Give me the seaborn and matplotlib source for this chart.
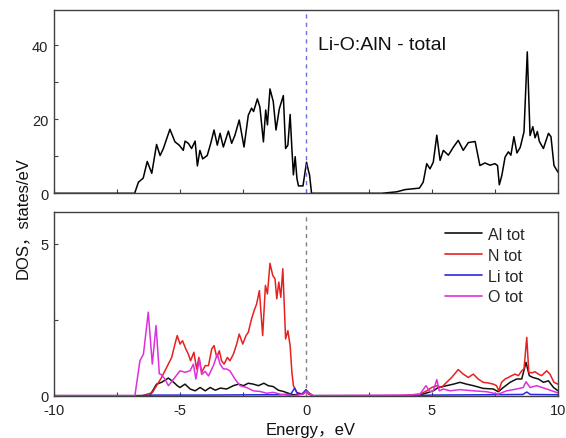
import numpy as np
import pandas as pd
import matplotlib
matplotlib.use("Agg")
import matplotlib.pyplot as plt
from matplotlib.ticker import MultipleLocator
import seaborn as sns

# ---------------- data ----------------
total_dos = [
    (-10.0, 0), (-6.80, 0), (-6.65, 3.0), (-6.46, 4.1), (-6.30, 8.6), (-6.12, 5.4),
    (-5.93, 13.2), (-5.79, 10.2), (-5.66, 12.1), (-5.40, 17.3), (-5.20, 13.9),
    (-5.03, 13.0), (-4.87, 11.6), (-4.80, 14.1), (-4.67, 13.5), (-4.54, 12.1),
    (-4.40, 14.1), (-4.31, 7.4), (-4.21, 11.6), (-4.10, 9.3), (-3.92, 10.2),
    (-3.78, 13.5), (-3.65, 17.1), (-3.52, 13.0), (-3.41, 16.2), (-3.28, 12.5),
    (-3.08, 16.8), (-2.95, 13.5), (-2.82, 15.7), (-2.65, 19.8), (-2.46, 12.5),
    (-2.29, 21.1), (-2.16, 23.0), (-2.08, 22.1), (-1.93, 25.5), (-1.83, 23.3),
    (-1.69, 13.9), (-1.60, 22.5), (-1.53, 18.5), (-1.43, 28.2), (-1.30, 24.8),
    (-1.19, 17.1), (-1.06, 22.8), (-0.90, 26.4), (-0.81, 12.1), (-0.72, 13.0),
    (-0.63, 21.3), (-0.56, 12.0), (-0.50, 5.0), (-0.43, 9.9), (-0.36, 4.0),
    (-0.30, 2.0), (-0.12, 2.0), (0.02, 8.4), (0.10, 6.0), (0.14, 5.0), (0.22, 0),
    (3.00, 0), (3.60, 0.4), (3.93, 1.0), (4.50, 1.4), (4.65, 3.0), (4.79, 8.0),
    (4.92, 6.6), (5.05, 8.4), (5.19, 15.7), (5.32, 8.9), (5.45, 11.6), (5.65, 10.3),
    (5.85, 12.5), (6.04, 14.3), (6.24, 11.6), (6.44, 13.7), (6.71, 14.0), (6.90, 7.5),
    (7.10, 8.2), (7.30, 7.6), (7.50, 8.0), (7.60, 7.5), (7.67, 2.3), (7.77, 4.8),
    (7.90, 9.8), (8.03, 11.2), (8.13, 10.3), (8.25, 15.3), (8.37, 10.9), (8.50, 12.4),
    (8.65, 16.6), (8.78, 38.2), (8.89, 15.6), (9.00, 18.0), (9.09, 15.0), (9.18, 16.7),
    (9.26, 14.0), (9.42, 12.1), (9.62, 16.2), (9.72, 15.3), (9.84, 7.5), (10.0, 5.7),
]

al_dos = [
    (-10.0, 0), (-6.2, 0), (-5.93, 0.38), (-5.73, 0.44), (-5.46, 0.58), (-5.25, 0.44),
    (-5.11, 0.33), (-5.0, 0.27), (-4.8, 0.38), (-4.6, 0.22), (-4.4, 0.16), (-4.2, 0.27),
    (-4.0, 0.16), (-3.8, 0.27), (-3.6, 0.18), (-3.4, 0.25), (-3.15, 0.22), (-2.88, 0.33),
    (-2.68, 0.38), (-2.48, 0.33), (-2.29, 0.41), (-2.09, 0.38), (-1.89, 0.33),
    (-1.67, 0.41), (-1.5, 0.33), (-1.3, 0.30), (-1.1, 0.18), (-0.9, 0.14), (-0.7, 0.08),
    (-0.5, 0.03), (-0.17, 0.05), (0.03, 0.14), (0.27, 0), (4.2, 0), (4.52, 0.02),
    (5.05, 0.16), (5.25, 0.27), (5.58, 0.33), (5.85, 0.38), (6.11, 0.44), (6.37, 0.38),
    (6.64, 0.33), (7.03, 0.24), (7.43, 0.22), (7.63, 0.13), (7.83, 0.27), (8.10, 0.44),
    (8.36, 0.55), (8.56, 0.55), (8.73, 1.10), (8.86, 0.66), (9.00, 0.60), (9.22, 0.55),
    (9.42, 0.44), (9.62, 0.49), (9.82, 0.27), (10.0, 0.16),
]

n_dos = [
    (-10.0, 0), (-6.5, 0), (-6.1, 0.10), (-5.93, 0.33), (-5.73, 0.60), (-5.53, 0.93),
    (-5.33, 1.26), (-5.2, 1.70), (-5.11, 1.98), (-5.0, 1.70), (-4.9, 1.81), (-4.77, 1.54),
    (-4.67, 1.37), (-4.58, 1.15), (-4.45, 1.43), (-4.34, 0.88), (-4.25, 1.26),
    (-4.14, 0.77), (-4.0, 0.99), (-3.87, 0.99), (-3.74, 1.54), (-3.65, 1.65),
    (-3.54, 1.26), (-3.44, 1.48), (-3.35, 1.15), (-3.25, 1.04), (-3.12, 1.26),
    (-3.02, 1.15), (-2.88, 1.37), (-2.75, 1.70), (-2.65, 2.03), (-2.51, 1.70),
    (-2.38, 1.98), (-2.29, 2.09), (-2.16, 2.53), (-2.06, 2.80), (-1.96, 3.02),
    (-1.85, 3.46), (-1.72, 1.98), (-1.61, 3.63), (-1.53, 3.35), (-1.43, 4.36),
    (-1.32, 3.96), (-1.23, 3.85), (-1.16, 3.19), (-1.08, 3.74), (-1.0, 3.24),
    (-0.92, 4.18), (-0.81, 1.87), (-0.72, 2.14), (-0.63, 1.65), (-0.56, 0.77),
    (-0.5, 0.33), (-0.37, 0.11), (-0.17, 0.05), (0.0, 0.14), (0.1, 0.05), (0.27, 0),
    (3.7, 0), (4.52, 0.05), (4.79, 0.16), (4.99, 0.27), (5.19, 0.33), (5.38, 0.27),
    (5.58, 0.44), (5.78, 0.60), (6.04, 0.86), (6.24, 0.71), (6.44, 0.60), (6.64, 0.71),
    (6.83, 0.55), (7.03, 0.44), (7.23, 0.42), (7.43, 0.38), (7.56, 0.33), (7.65, 0.16),
    (7.76, 0.44), (7.90, 0.55), (8.03, 0.60), (8.16, 0.66), (8.29, 0.71), (8.43, 0.66),
    (8.56, 0.82), (8.65, 0.88), (8.76, 1.92), (8.84, 0.77), (8.96, 0.75), (9.09, 0.79),
    (9.22, 0.71), (9.35, 0.66), (9.55, 0.82), (9.68, 0.71), (9.84, 0.44), (10.0, 0.38),
]

li_dos = [
    (-10.0, 0), (-6.6, 0), (-6.0, 0.02), (-4.0, 0.02), (-2.0, 0.03), (-1.0, 0.03),
    (-0.6, 0.06), (-0.45, 0.25), (-0.35, 0.08), (-0.15, 0.06), (0.0, 0.20),
    (0.12, 0.08), (0.27, 0), (4.3, 0), (5.0, 0.02), (7.0, 0.03), (8.6, 0.04),
    (8.76, 0.12), (8.9, 0.04), (10.0, 0.03),
]

o_dos = [
    (-10.0, 0), (-6.79, 0), (-6.59, 1.15), (-6.45, 1.37), (-6.26, 2.75), (-6.10, 1.04),
    (-5.95, 2.31), (-5.82, 0.72), (-5.75, 0.70), (-5.6, 0.55), (-5.46, 0.33),
    (-5.25, 0.55), (-5.0, 0.82), (-4.8, 0.77), (-4.6, 0.82), (-4.47, 1.04),
    (-4.37, 0.55), (-4.23, 1.21), (-4.14, 0.70), (-4.0, 0.80), (-3.87, 0.65),
    (-3.67, 1.00), (-3.52, 1.37), (-3.41, 1.04), (-3.28, 0.88), (-3.15, 0.88),
    (-3.02, 0.82), (-2.82, 0.55), (-2.62, 0.33), (-2.36, 0.27), (-2.09, 0.16),
    (-1.83, 0.14), (-1.56, 0.08), (-1.3, 0.11), (-1.03, 0.05), (-0.77, 0.02),
    (-0.5, 0), (-0.1, 0.05), (0.0, 0.15), (0.27, 0), (4.13, 0.02), (4.52, 0.05),
    (4.76, 0.33), (4.92, 0.13), (5.05, 0.16), (5.19, 0.53), (5.29, 0.16), (5.45, 0.22),
    (5.72, 0.16), (6.11, 0.20), (6.64, 0.16), (7.17, 0.13), (7.63, 0.05), (7.96, 0.16),
    (8.36, 0.22), (8.62, 0.27), (8.73, 0.46), (8.89, 0.27), (9.15, 0.33), (9.55, 0.22),
    (10.0, 0.09),
]

series_names = ["Al tot", "N tot", "Li tot", "O tot"]
series_colors = ["#111111", "#e82020", "#2a2ae0", "#dd30dd"]
panel_title = "Li-O:AlN - total"
x_label = "Energy，eV"
y_label = "DOS，states/eV"
x_ticks = [-10, -5, 0, 5, 10]
top_yticks = [0, 20, 40]
bot_yticks = [0, 5]

# ---------------- styling ----------------
sns.set_style("ticks")
plt.rcParams["font.family"] = ["Liberation Sans", "Noto Sans CJK SC", "DejaVu Sans"]
plt.rcParams["axes.unicode_minus"] = False
plt.rcParams["axes.edgecolor"] = "#404040"
plt.rcParams["axes.linewidth"] = 1.0

fig = plt.figure(figsize=(5.66, 4.39), dpi=100)
ax_top = fig.add_axes([0.0954, 0.5574, 0.8905, 0.4182])
ax_bot = fig.add_axes([0.0954, 0.0964, 0.8905, 0.4177])

tot_df = pd.DataFrame(total_dos, columns=["E", "DOS"])
sns.lineplot(data=tot_df, x="E", y="DOS", ax=ax_top, color="black", lw=1.1,
             estimator=None, sort=False)

frames = []
for name, pts in zip(series_names, [al_dos, n_dos, li_dos, o_dos]):
    d = pd.DataFrame(pts, columns=["E", "DOS"])
    d["species"] = name
    frames.append(d)
pdos_df = pd.concat(frames, ignore_index=True)
sns.lineplot(data=pdos_df, x="E", y="DOS", hue="species", hue_order=series_names,
             palette=series_colors, ax=ax_bot, lw=1.1, estimator=None, sort=False)

ax_top.axvline(0, color="#7070d8", lw=1.0, ls=(0, (3, 3)))
ax_bot.axvline(0, color="#808080", lw=1.0, ls=(0, (3, 3)))

for ax in (ax_top, ax_bot):
    ax.set_xlim(-10, 10)
    ax.set_xticks(x_ticks)
    ax.xaxis.set_minor_locator(MultipleLocator(2.5))
    ax.set_xlabel("")
    ax.set_ylabel("")
    ax.tick_params(which="both", direction="in", length=3, width=0.8,
                   colors="#404040", labelcolor="#222222", labelsize=10.5)
    ax.tick_params(axis="x", pad=5)
    ax.tick_params(axis="y", pad=4)
    for s in ax.spines.values():
        s.set_visible(True)

ax_top.set_ylim(0, 49.6)
ax_top.set_yticks(top_yticks)
ax_top.yaxis.set_minor_locator(MultipleLocator(10))
ax_top.tick_params(axis="x", labelbottom=False)
ax_top.text(0.524, 0.808, panel_title, transform=ax_top.transAxes,
            fontsize=14, color="#111111", va="center", ha="left")

ax_bot.set_ylim(0, 6.04)
ax_bot.set_yticks(bot_yticks)
ax_bot.yaxis.set_minor_locator(MultipleLocator(2.5))

leg = ax_bot.legend(loc="upper left", bbox_to_anchor=(445 / 566, 1 - 228 / 439),
                    bbox_transform=fig.transFigure, frameon=False, fontsize=11.5,
                    handlelength=2.3, handletextpad=0.38, labelspacing=0.36,
                    borderpad=0, borderaxespad=0)
for line in leg.get_lines():
    line.set_linewidth(1.2)

fig.text(0.039, 0.503, y_label, rotation=90, ha="center", va="center",
         fontsize=12, color="#111111")
fig.text(0.548, 0.019, x_label, ha="center", va="center", fontsize=12, color="#111111")

fig.savefig("out.png", dpi=100)
